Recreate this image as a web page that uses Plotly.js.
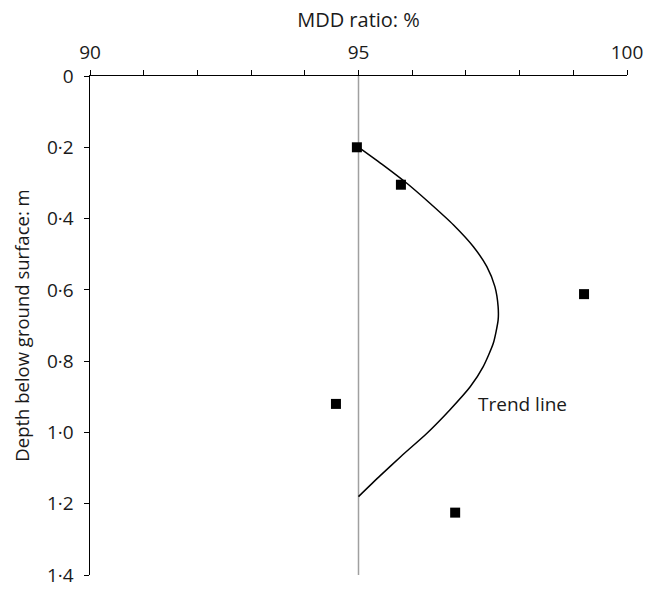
<!DOCTYPE html>
<html>
<head>
<meta charset="utf-8">
<script src="https://cdn.plot.ly/plotly-3.0.1.min.js"></script>
<style>html,body{margin:0;padding:0;background:#fff;}</style>
</head>
<body>
<div id="chart" style="width:647px;height:593px;"></div>
<script>
// Measured data points
const pointRatio = [94.97, 95.79, 99.2, 94.58, 96.8];
const pointDepth = [0.2, 0.305, 0.612, 0.92, 1.225];

// Trend line (traced)
const trendRatio = [95.03, 95.46, 95.90, 96.33, 96.77, 97.14, 97.39, 97.54, 97.60, 97.60, 97.51, 97.32, 97.08, 96.70, 96.27, 95.80, 95.40, 95.0];
const trendDepth = [0.203, 0.250, 0.301, 0.357, 0.418, 0.479, 0.535, 0.591, 0.647, 0.685, 0.750, 0.816, 0.872, 0.937, 1.003, 1.066, 1.122, 1.180];

// Reference line at 95 %
const refRatio = [95, 95];
const refDepth = [0, 1.4];

const xTickVals = [90, 95, 100];
const xTickText = ['90', '95', '100'];
const yTickVals = [0, 0.2, 0.4, 0.6, 0.8, 1.0, 1.2, 1.4];
const yTickText = ['0', '0·2', '0·4', '0·6', '0·8', '1·0', '1·2', '1·4'];

const fam = '"Open Sans", "Noto Sans", sans-serif';
const font = {family: fam, size: 19, color: '#1a1a1a'};

const traces = [
  {x: refRatio, y: refDepth, mode: 'lines', line: {color: '#a0a0a0', width: 1.5}, hoverinfo: 'skip', showlegend: false},
  {x: trendRatio, y: trendDepth, mode: 'lines', line: {color: '#000', width: 1.5, shape: 'spline', smoothing: 0.6}, showlegend: false},
  {x: pointRatio, y: pointDepth, mode: 'markers', marker: {symbol: 'square', size: 10, color: '#000'}, showlegend: false}
];

const layout = {
  width: 647, height: 593,
  margin: {l: 90, r: 20, t: 76, b: 18},
  paper_bgcolor: '#fff', plot_bgcolor: '#fff',
  font: font,
  showlegend: false,
  xaxis: {
    side: 'top', range: [90, 100], showgrid: false, zeroline: false,
    showline: true, linecolor: '#000', linewidth: 1.5,
    ticks: 'outside', ticklen: 5, tickcolor: '#000', tickwidth: 1,
    tickmode: 'array', tickvals: xTickVals, ticktext: xTickText,
    minor: {dtick: 1, ticks: 'outside', ticklen: 5, tickcolor: '#000', tickwidth: 1, showgrid: false},
    tickfont: font, ticklabelstandoff: 3,
    title: {text: 'MDD ratio: %', font: {family: fam, size: 20, color: '#1a1a1a'}, standoff: 6}
  },
  yaxis: {
    range: [1.4, 0], showgrid: false, zeroline: false,
    showline: true, linecolor: '#000', linewidth: 1.5,
    ticks: 'outside', ticklen: 5, tickcolor: '#000', tickwidth: 1,
    tickmode: 'array', tickvals: yTickVals, ticktext: yTickText,
    tickfont: font, ticklabelstandoff: 6,
    title: {text: 'Depth below ground surface: m', font: {family: fam, size: 18.5, color: '#1a1a1a'}, standoff: 12}
  },
  annotations: [
    {x: 98.06, y: 0.92, xref: 'x', yref: 'y', text: 'Trend line', showarrow: false, font: font, xanchor: 'center', yanchor: 'middle'}
  ]
};

Plotly.newPlot('chart', traces, layout, {displayModeBar: false, staticPlot: true});
</script>
</body>
</html>
